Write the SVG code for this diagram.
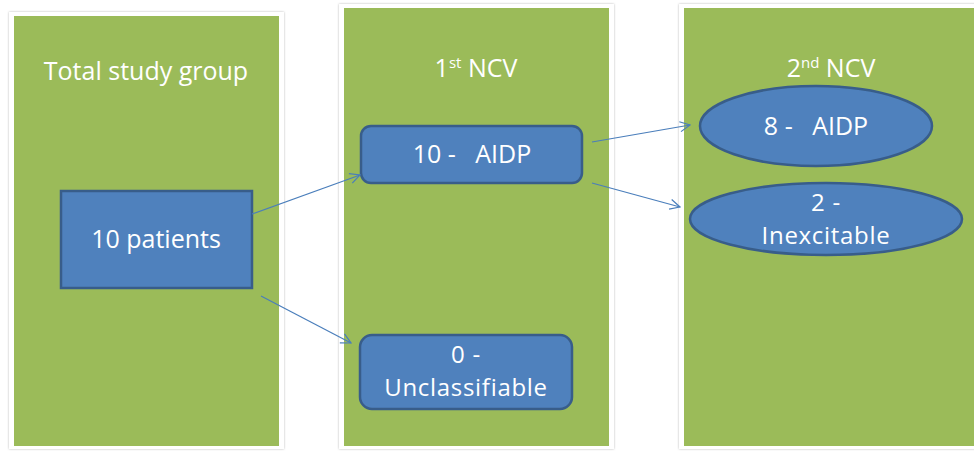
<svg xmlns="http://www.w3.org/2000/svg" width="974" height="451" viewBox="0 0 974 451">
  <defs>
    <marker id="arrow" viewBox="0 0 12 12" refX="11" refY="6" markerWidth="12" markerHeight="12" markerUnits="userSpaceOnUse" orient="auto">
      <path d="M1,1 L11,6 L1,11" fill="none" stroke="#4a7ebb" stroke-width="1.2"/>
    </marker>
    <filter id="shadow" x="-5%" y="-5%" width="110%" height="110%">
      <feDropShadow dx="0" dy="0" stdDeviation="1.2" flood-color="#999" flood-opacity="0.7"/>
    </filter>
  </defs>
  <style>
    .frame { fill: #ffffff; filter: url(#shadow); }
    .panel { fill: #9bbb59; }
    .node { fill: #4f81bd; stroke: #385d8a; stroke-width: 2.5; }
    .title, .label { font-family: "Open Sans", "Liberation Sans", sans-serif; font-size: 25px; fill: #ffffff; text-anchor: middle; }
    .label.two { font-size: 24px; letter-spacing: 0.7px; }
    .sup { font-size: 15px; }
    .link { fill: none; stroke: #4a7ebb; stroke-width: 1.2; marker-end: url(#arrow); }
  </style>
  <rect width="974" height="451" fill="#ffffff"/>

  <!-- column panels -->
  <g id="panel-total">
    <rect class="frame" x="9" y="12" width="275" height="437"/>
    <rect class="panel" x="14" y="16" width="265" height="430"/>
    <text class="title" x="146" y="80">Total study group</text>
  </g>
  <g id="panel-ncv1">
    <rect class="frame" x="339" y="4" width="275" height="445"/>
    <rect class="panel" x="344" y="8" width="265" height="438"/>
    <text class="title" x="476" y="77">1<tspan class="sup" dy="-9">st</tspan><tspan dy="9"> NCV</tspan></text>
  </g>
  <g id="panel-ncv2">
    <rect class="frame" x="679" y="4" width="300" height="445"/>
    <rect class="panel" x="684" y="8" width="295" height="438"/>
    <text class="title" x="831" y="77">2<tspan class="sup" dy="-9">nd</tspan><tspan dy="9"> NCV</tspan></text>
  </g>

  <!-- nodes -->
  <g id="node-patients">
    <rect class="node" x="61" y="191" width="191" height="97"/>
    <text class="label" x="156" y="248">10 patients</text>
  </g>
  <g id="node-aidp1">
    <rect class="node" x="361" y="126" width="221" height="57" rx="10" ry="10"/>
    <text class="label" x="472" y="163" xml:space="preserve">10 -   AIDP</text>
  </g>
  <g id="node-unclass">
    <rect class="node" x="360" y="335" width="212" height="74" rx="12" ry="12"/>
    <text class="label two" x="466" y="363">0 -<tspan x="466" dy="33">Unclassifiable</tspan></text>
  </g>
  <g id="node-aidp2">
    <ellipse class="node" cx="816" cy="126" rx="116" ry="40"/>
    <text class="label" x="816" y="135" xml:space="preserve">8 -   AIDP</text>
  </g>
  <g id="node-inexcitable">
    <ellipse class="node" cx="826" cy="219" rx="136" ry="36"/>
    <text class="label two" x="826" y="211">2 -<tspan x="826" dy="33">Inexcitable</tspan></text>
  </g>

  <!-- connectors -->
  <g id="connectors">
    <line class="link" x1="252" y1="214" x2="360" y2="175"/>
    <line class="link" x1="261" y1="296" x2="351" y2="343"/>
    <line class="link" x1="592" y1="142" x2="690" y2="125"/>
    <line class="link" x1="592" y1="183" x2="680" y2="207"/>
  </g>
</svg>
